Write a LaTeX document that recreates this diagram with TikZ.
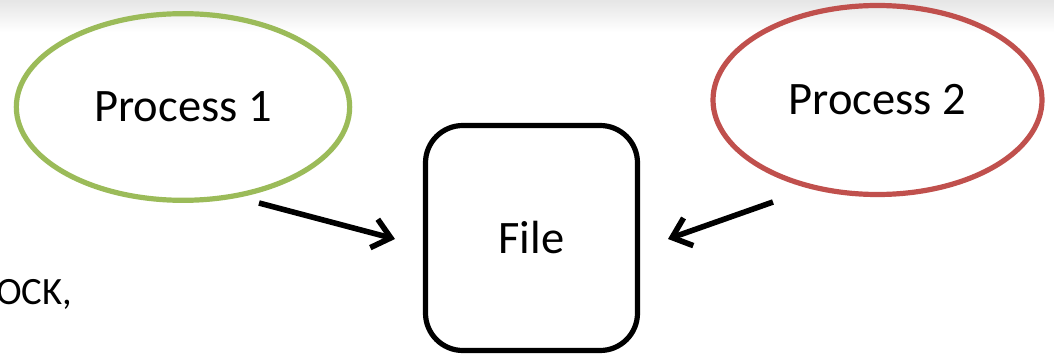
\documentclass[tikz,border=0pt]{standalone}
\usepackage{fontspec}
\setmainfont{Carlito}
\usetikzlibrary{arrows.meta,shapes.geometric}
\definecolor{procgreen}{HTML}{9BBB59}
\definecolor{procred}{HTML}{C0504D}
\begin{document}
\begin{tikzpicture}[x=0.75pt,y=-0.75pt,
  proc/.style={ellipse,draw,line width=3.9pt,inner sep=0pt,font=\fontsize{34.9pt}{40pt}\selectfont},
  filebox/.style={draw=black,line width=3.9pt,rounded corners=28pt,minimum width=159pt,minimum height=168.75pt,inner sep=0pt,font=\fontsize{34.9pt}{40pt}\selectfont},
  conn/.style={line width=4.2pt,-{Straight Barb[length=13pt,width=22pt]}}]
\useasboundingbox (0,0) rectangle (1054,356);
\clip (0,0) rectangle (1054,356);
\shade[top color=black!10,bottom color=white] (0,0) rectangle (1054,32);
\node[proc,draw=procgreen,minimum width=250pt,minimum height=140pt] (p1) at (183,107) {Process 1};
\node[proc,draw=procred,minimum width=246.75pt,minimum height=141.75pt] (p2) at (877.5,100) {Process 2};
\node[filebox] (file) at (531.5,238) {File};
\coordinate (a1s) at (259,203);
\coordinate (a1e) at (395,239);
\coordinate (a2s) at (773,202);
\coordinate (a2e) at (668,239);
\draw[conn] (a1s) -- (a1e);
\draw[conn] (a2s) -- (a2e);
\node[anchor=base west,inner sep=0pt,font=\fontsize{29pt}{33pt}\selectfont] (ock) at (-4,305) {OCK,};
\end{tikzpicture}
\end{document}
